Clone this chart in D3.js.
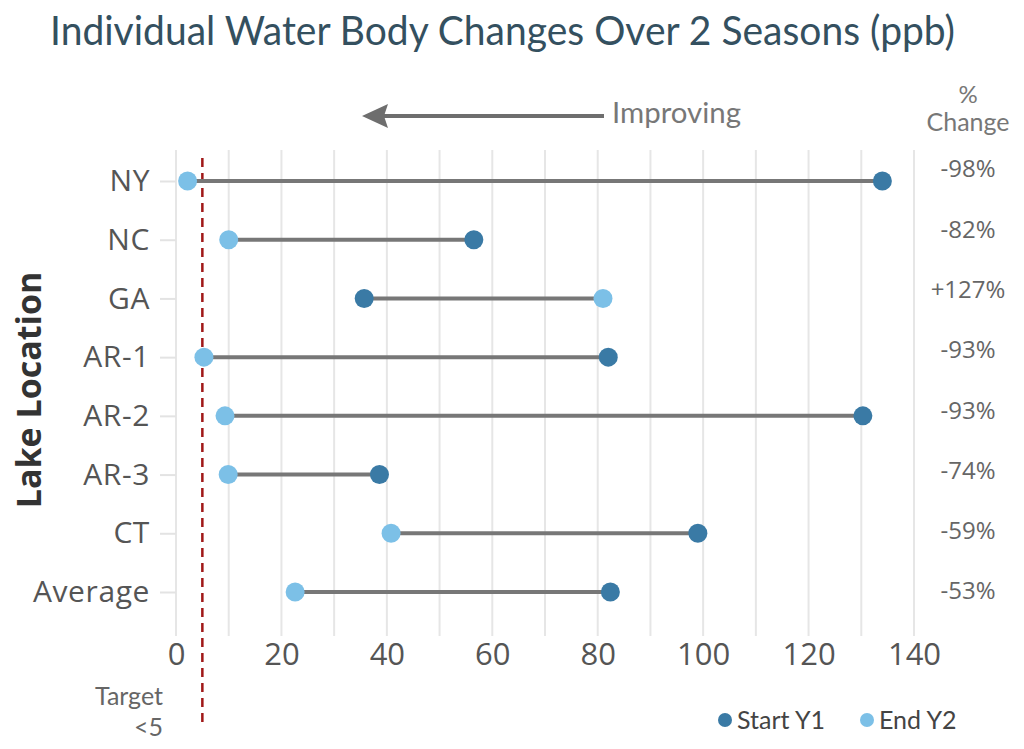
<!DOCTYPE html>
<html>
<head>
<meta charset="utf-8">
<script src="https://cdn.jsdelivr.net/npm/d3@7"></script>
<style>
  body { margin: 0; background: #fff; }
</style>
</head>
<body>
<svg id="chart" width="1024" height="749" font-family="Lato, sans-serif"></svg>
<script>
// lake locations, top to bottom
var lakes = ["NY", "NC", "GA", "AR-1", "AR-2", "AR-3", "CT", "Average"];
var startY1 = [134, 56.5, 35.7, 82, 130.3, 38.6, 99, 82.4];
var endY2 = [2.2, 10, 81, 5.3, 9.3, 9.9, 40.8, 22.6];
var pctChange = ["-98%", "-82%", "+127%", "-93%", "-93%", "-74%", "-59%", "-53%"];
var xTicks = [0, 20, 40, 60, 80, 100, 120, 140];
var target = 5;

var svg = d3.select("#chart");

var startColor = "#3a7aa5";
var endColor = "#7cc0e7";
var wideFont = "'Open Sans', 'Noto Sans', sans-serif";

var x = d3.scaleLinear().domain([0, 140]).range([176, 914]);
var y = d3.scalePoint().domain(lakes).range([181, 592]);
var yPct = d3.scalePoint().domain(lakes).range([169, 591]);

// title
svg.append("text")
    .attr("x", 50)
    .attr("y", 45)
    .attr("font-size", 40)
    .attr("fill", "#34505f")
    .attr("textLength", 905)
    .attr("lengthAdjust", "spacingAndGlyphs")
    .text("Individual Water Body Changes Over 2 Seasons (ppb)");

// vertical gridlines every 10
svg.append("g")
    .selectAll("line")
    .data(d3.range(0, 141, 10))
    .enter()
    .append("line")
    .attr("x1", function(d) { return x(d); })
    .attr("x2", function(d) { return x(d); })
    .attr("y1", 150)
    .attr("y2", 636)
    .attr("stroke", "#e6e6e6")
    .attr("stroke-width", 2);

// x axis labels
var xAxis = d3.axisBottom(x).tickValues(xTicks).tickSize(0).tickPadding(0);
var gx = svg.append("g")
    .attr("transform", "translate(0, 641)")
    .call(xAxis);
gx.select(".domain").remove();
gx.selectAll("text")
    .style("font-family", wideFont)
    .style("font-size", "31px")
    .attr("fill", "#555")
    .attr("dy", "0.76em");

// y axis
var yAxis = d3.axisLeft(y).tickSize(16).tickPadding(10);
var gy = svg.append("g")
    .attr("transform", "translate(176, 0)")
    .call(yAxis);
gy.select(".domain").remove();
gy.selectAll("line").attr("stroke", "#e3e3e3").attr("stroke-width", 2);
gy.selectAll("text")
    .style("font-family", wideFont)
    .style("font-size", "30px")
    .style("letter-spacing", "0.6px")
    .attr("fill", "#555");

svg.append("text")
    .attr("transform", "translate(41, 390) rotate(-90)")
    .attr("text-anchor", "middle")
    .style("font-family", wideFont)
    .attr("font-size", 34)
    .attr("font-weight", "bold")
    .attr("fill", "#333")
    .text("Lake Location");

// target line
svg.append("line")
    .attr("x1", x(target))
    .attr("x2", x(target))
    .attr("y1", 158)
    .attr("y2", 722)
    .attr("stroke", "#a01818")
    .attr("stroke-width", 2.5)
    .attr("stroke-dasharray", "9,6");

svg.append("text")
    .attr("x", 163)
    .attr("y", 705)
    .attr("text-anchor", "end")
    .attr("font-size", 25)
    .attr("fill", "#666")
    .text("Target");
svg.append("text")
    .attr("x", 163)
    .attr("y", 736)
    .attr("text-anchor", "end")
    .attr("font-size", 25)
    .attr("fill", "#666")
    .text("<5");

// dumbbells
var rows = lakes.map(function(d, i) {
    return { lake: d, start: startY1[i], end: endY2[i], pct: pctChange[i] };
});

var g = svg.append("g");
g.selectAll(".bar")
    .data(rows)
    .enter()
    .append("line")
    .attr("x1", function(d) { return x(d.start); })
    .attr("x2", function(d) { return x(d.end); })
    .attr("y1", function(d) { return y(d.lake); })
    .attr("y2", function(d) { return y(d.lake); })
    .attr("stroke", "#777")
    .attr("stroke-width", 4);

g.selectAll(".start")
    .data(rows)
    .enter()
    .append("circle")
    .attr("cx", function(d) { return x(d.start); })
    .attr("cy", function(d) { return y(d.lake); })
    .attr("r", 9.5)
    .attr("fill", startColor);

g.selectAll(".end")
    .data(rows)
    .enter()
    .append("circle")
    .attr("cx", function(d) { return x(d.end); })
    .attr("cy", function(d) { return y(d.lake); })
    .attr("r", 9.5)
    .attr("fill", endColor);

// % change column
svg.append("text")
    .attr("x", 968)
    .attr("y", 103)
    .attr("text-anchor", "middle")
    .attr("font-size", 24)
    .attr("fill", "#777")
    .text("%");
svg.append("text")
    .attr("x", 968)
    .attr("y", 131)
    .attr("text-anchor", "middle")
    .attr("font-size", 25)
    .attr("fill", "#777")
    .text("Change");

svg.append("g")
    .selectAll("text")
    .data(rows)
    .enter()
    .append("text")
    .attr("x", 968)
    .attr("y", function(d) { return yPct(d.lake); })
    .attr("dy", "0.35em")
    .attr("text-anchor", "middle")
    .style("font-family", wideFont)
    .attr("font-size", 24)
    .attr("fill", "#666")
    .text(function(d) { return d.pct; });

// improving arrow
svg.append("line")
    .attr("x1", 380)
    .attr("x2", 604)
    .attr("y1", 116)
    .attr("y2", 116)
    .attr("stroke", "#6e6e6e")
    .attr("stroke-width", 4);
svg.append("path")
    .attr("d", "M362,116 L388,104 L384,116 L388,128 Z")
    .attr("fill", "#6e6e6e");
svg.append("text")
    .attr("x", 612)
    .attr("y", 123)
    .attr("font-size", 29)
    .attr("fill", "#777")
    .attr("textLength", 129)
    .attr("lengthAdjust", "spacingAndGlyphs")
    .text("Improving");

// legend
var legend = svg.append("g").attr("transform", "translate(725, 720)");
var legendItems = [
    { label: "Start Y1", color: startColor, x: 0 },
    { label: "End Y2", color: endColor, x: 142 }
];
var li = legend.selectAll("g")
    .data(legendItems)
    .enter()
    .append("g")
    .attr("transform", function(d) { return "translate(" + d.x + ",0)"; });
li.append("circle").attr("r", 7).attr("fill", function(d) { return d.color; });
li.append("text")
    .attr("x", 12)
    .attr("dy", "0.35em")
    .attr("font-size", 25)
    .attr("fill", "#444")
    .text(function(d) { return d.label; });
</script>
</body>
</html>
